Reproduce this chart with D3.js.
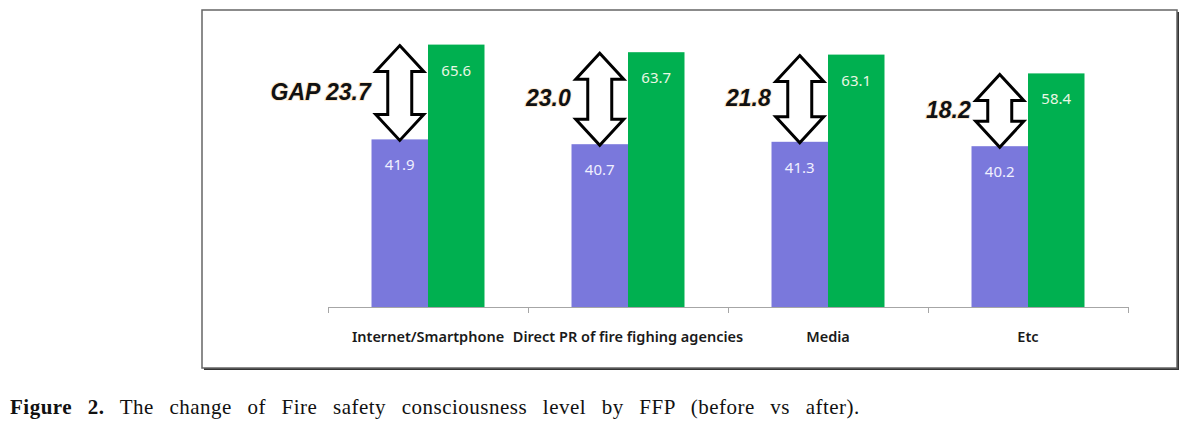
<!DOCTYPE html>
<html>
<head>
<meta charset="utf-8">
<script src="https://cdn.jsdelivr.net/npm/d3@7"></script>
<style>
  body { margin: 0; background: #fff; }
  svg { display: block; }
</style>
</head>
<body>
<script>
var width = 1200;
var height = 423;

// data
var categories = ["Internet/Smartphone", "Direct PR of fire fighing agencies", "Media", "Etc"];
var series = ["before", "after"];
var before = [41.9, 40.7, 41.3, 40.2];
var after = [65.6, 63.7, 63.1, 58.4];
var gapLabels = ["GAP 23.7", "23.0", "21.8", "18.2"];
var colors = { before: "#7a78dc", after: "#00b050" };

var svg = d3.select("body").append("svg")
  .attr("width", width)
  .attr("height", height);

// frame with shadow
svg.append("rect")
  .attr("x", 204).attr("y", 12)
  .attr("width", 975).attr("height", 358)
  .attr("fill", "#333");
svg.append("rect")
  .attr("x", 202).attr("y", 10)
  .attr("width", 975).attr("height", 358)
  .attr("fill", "#fff")
  .attr("stroke", "#666")
  .attr("stroke-width", 1.5);

// scales
var xScale = d3.scaleBand()
  .domain(categories)
  .range([328, 1128]);

var xInner = d3.scaleBand()
  .domain(series)
  .range([0, xScale.bandwidth()])
  .paddingOuter(0.77);

var yScale = d3.scaleLinear()
  .domain([0, 70])
  .range([307, 27]);

var rows = categories.map((c, i) => ({ cat: c, before: before[i], after: after[i], gap: gapLabels[i] }));

// bars
var groups = svg.append("g").selectAll("g")
  .data(rows)
  .enter()
  .append("g")
  .attr("transform", d => "translate(" + xScale(d.cat) + ",0)");

groups.selectAll("rect")
  .data(d => series.map(s => ({ key: s, value: d[s] })))
  .enter()
  .append("rect")
  .attr("x", d => xInner(d.key))
  .attr("y", d => yScale(d.value))
  .attr("width", xInner.bandwidth())
  .attr("height", d => yScale(0) - yScale(d.value))
  .attr("fill", d => colors[d.key]);

groups.selectAll("text.val")
  .data(d => series.map(s => ({ key: s, value: d[s] })))
  .enter()
  .append("text")
  .attr("class", "val")
  .attr("x", d => xInner(d.key) + xInner.bandwidth() / 2)
  .attr("y", d => yScale(d.value) + 31)
  .attr("text-anchor", "middle")
  .attr("font-family", "Noto Sans")
  .attr("font-size", 15)
  .attr("fill", d => d.key == "before" ? "#f0f0ff" : "#eaf7e4")
  .text(d => d.value.toFixed(1));

// gap arrows (hollow double-headed)
var headLen = 26, headHalf = 24, shaftHalf = 12;
groups.append("path")
  .attr("d", d => {
    var cx = xInner("before") + xInner.bandwidth() / 2;
    var y0 = yScale(d.after) + 1;
    var y1 = yScale(d.before) + 1;
    return "M" + cx + "," + y0 +
      "L" + (cx + headHalf) + "," + (y0 + headLen) +
      "L" + (cx + shaftHalf) + "," + (y0 + headLen) +
      "L" + (cx + shaftHalf) + "," + (y1 - headLen) +
      "L" + (cx + headHalf) + "," + (y1 - headLen) +
      "L" + cx + "," + y1 +
      "L" + (cx - headHalf) + "," + (y1 - headLen) +
      "L" + (cx - shaftHalf) + "," + (y1 - headLen) +
      "L" + (cx - shaftHalf) + "," + (y0 + headLen) +
      "L" + (cx - headHalf) + "," + (y0 + headLen) + "Z";
  })
  .attr("fill", "#fff")
  .attr("stroke", "#000")
  .attr("stroke-width", 3)
  .attr("stroke-linejoin", "miter");

groups.append("text")
  .attr("x", xInner("before") + xInner.bandwidth() / 2 - headHalf - 5)
  .attr("y", d => (yScale(d.after) + yScale(d.before)) / 2 + 8)
  .attr("text-anchor", "end")
  .attr("font-family", "Liberation Sans")
  .attr("font-weight", "bold")
  .attr("font-style", "italic")
  .attr("font-size", 23)
  .attr("fill", "#111")
  .attr("stroke", "#fcebd4")
  .attr("stroke-width", 2)
  .attr("paint-order", "stroke")
  .text(d => d.gap);

// x axis with ticks at category boundaries
var axis = svg.append("g");
axis.append("line")
  .attr("x1", xScale.range()[0]).attr("x2", xScale.range()[1])
  .attr("y1", yScale(0) + 0.5).attr("y2", yScale(0) + 0.5)
  .attr("stroke", "#a6a6a6");
axis.selectAll("line.tick")
  .data(categories.concat([null]))
  .enter()
  .append("line")
  .attr("x1", d => (d ? xScale(d) : xScale.range()[1]) + 0.5)
  .attr("x2", d => (d ? xScale(d) : xScale.range()[1]) + 0.5)
  .attr("y1", yScale(0))
  .attr("y2", yScale(0) + 6)
  .attr("stroke", "#a6a6a6");
axis.selectAll("text")
  .data(categories)
  .enter()
  .append("text")
  .attr("x", d => xScale(d) + xScale.bandwidth() / 2)
  .attr("y", 342)
  .attr("text-anchor", "middle")
  .attr("font-family", "Noto Sans")
  .attr("font-size", 14.5)
  .attr("font-weight", 600)
  .attr("fill", "#1a1a1a")
  .text(d => d);

// caption
var caption = svg.append("text")
  .attr("x", 10)
  .attr("y", 414)
  .attr("font-family", "Liberation Serif")
  .attr("font-size", 21)
  .attr("letter-spacing", 0.5)
  .attr("fill", "#111");
caption.append("tspan").attr("font-weight", "bold").text("Figure 2.");
caption.append("tspan").text(" The change of Fire safety consciousness level by FFP (before vs after).");

// spread words to fill the same line width as the original
var natural = caption.node().getComputedTextLength();
var spaces = 12;
var extra = (840 - natural) / spaces;
if (extra > 0) caption.attr("word-spacing", extra);
</script>
</body>
</html>
